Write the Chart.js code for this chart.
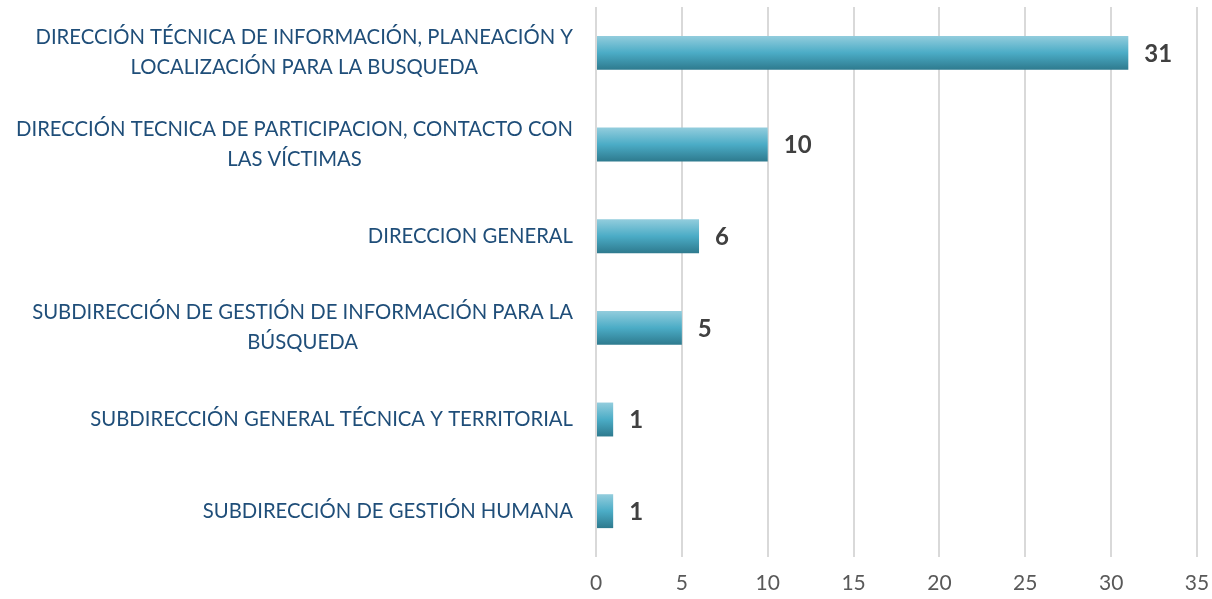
<!DOCTYPE html>
<html>
<head>
<meta charset="utf-8">
<script src="https://cdn.jsdelivr.net/npm/chart.js@4.4.1/dist/chart.umd.min.js"></script>
<style>
    html, body { margin: 0; padding: 0; background: #ffffff; }
    #wrap { width: 1212px; height: 599px; position: relative; }
</style>
</head>
<body>
<div id="wrap"><canvas id="chart"></canvas></div>
<script>
// dependencias (una por fila, las multilinea como arreglo)
const categories = [
    ['DIRECCIÓN TÉCNICA DE INFORMACIÓN, PLANEACIÓN Y', 'LOCALIZACIÓN PARA LA BUSQUEDA'],
    ['DIRECCIÓN TECNICA DE PARTICIPACION, CONTACTO CON', 'LAS VÍCTIMAS'],
    ['DIRECCION GENERAL'],
    ['SUBDIRECCIÓN DE GESTIÓN DE INFORMACIÓN PARA LA', 'BÚSQUEDA'],
    ['SUBDIRECCIÓN GENERAL TÉCNICA Y TERRITORIAL'],
    ['SUBDIRECCIÓN DE GESTIÓN HUMANA']
];
const values = [31, 10, 6, 5, 1, 1];
const xTicks = [0, 5, 10, 15, 20, 25, 30, 35];

const FONT = 'Lato, "Open Sans", sans-serif';
const BAR_PCT = 0.37;

function barGradient(context) {
    const chart = context.chart;
    if (!chart.chartArea || !chart.scales.y) return '#4BACC6';
    const y = chart.scales.y.getPixelForValue(context.dataIndex);
    const h = (chart.scales.y.height / categories.length) * BAR_PCT;
    const g = chart.ctx.createLinearGradient(0, y - h / 2, 0, y + h / 2);
    g.addColorStop(0, '#93CDDD');
    g.addColorStop(0.5, '#4BACC6');
    g.addColorStop(1, '#2E7A8E');
    return g;
}

// etiquetas del eje Y: lineas centradas entre si, bloque alineado a la derecha
const categoryLabels = {
    id: 'categoryLabels',
    afterDraw(chart) {
        const ctx = chart.ctx;
        const yScale = chart.scales.y;
        const right = chart.chartArea.left - 23;
        const lineH = 30;
        ctx.save();
        ctx.font = '20.3px ' + FONT;
        ctx.fillStyle = '#1F4E79';
        ctx.textAlign = 'center';
        ctx.textBaseline = 'middle';
        categories.forEach((lines, i) => {
            const cy = yScale.getPixelForValue(i);
            const maxW = Math.max(...lines.map(l => ctx.measureText(l).width));
            const cx = right - maxW / 2;
            const top = cy - (lines.length - 1) * lineH / 2;
            lines.forEach((l, j) => ctx.fillText(l, cx, top + j * lineH));
        });
        ctx.restore();
    }
};

const valueLabels = {
    id: 'valueLabels',
    afterDatasetsDraw(chart) {
        const ctx = chart.ctx;
        const meta = chart.getDatasetMeta(0);
        ctx.save();
        ctx.font = 'bold 24px ' + FONT;
        ctx.fillStyle = '#404040';
        ctx.textAlign = 'left';
        ctx.textBaseline = 'middle';
        meta.data.forEach((bar, i) => {
            ctx.fillText(String(values[i]), bar.x + 16, bar.y + 1);
        });
        ctx.restore();
    }
};

new Chart(document.getElementById('chart'), {
    type: 'bar',
    data: {
        labels: categories.map(c => c.join(' ')),
        datasets: [{
            data: values,
            backgroundColor: barGradient,
            borderWidth: 0,
            categoryPercentage: 1,
            barPercentage: BAR_PCT
        }]
    },
    options: {
        indexAxis: 'y',
        responsive: true,
        maintainAspectRatio: false,
        animation: false,
        layout: { padding: { top: 7, right: 15, bottom: 0, left: 0 } },
        plugins: { legend: { display: false }, tooltip: { enabled: false } },
        scales: {
            x: {
                min: 0,
                max: 35,
                afterBuildTicks: scale => { scale.ticks = xTicks.map(v => ({ value: v })); },
                grid: { color: '#D9D9D9', lineWidth: 2, drawTicks: false },
                border: { display: false },
                ticks: { color: '#595959', font: { family: FONT, size: 21 }, padding: 14 },
                afterFit: scale => {
                    scale.height = 42;
                    scale.paddingLeft = 0;
                    scale.paddingRight = 0;
                }
            },
            y: {
                grid: { display: false },
                border: { display: false },
                ticks: { display: false },
                afterFit: scale => { scale.width = 596; }
            }
        }
    },
    plugins: [categoryLabels, valueLabels]
});
</script>
</body>
</html>
